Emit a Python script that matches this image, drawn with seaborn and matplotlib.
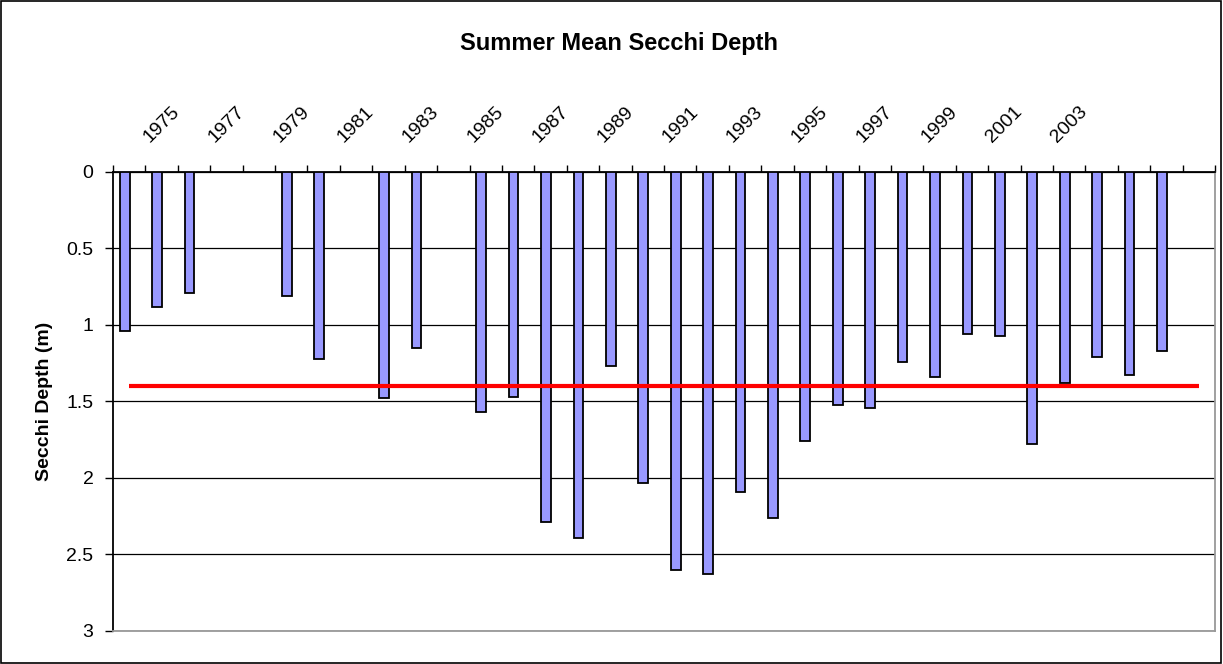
import matplotlib
matplotlib.use("Agg")
import matplotlib.pyplot as plt
import matplotlib.patches as mpatches
import seaborn as sns
import pandas as pd

# summer mean secchi depth (m), years with data only
years = [1974, 1975, 1976, 1979, 1980, 1982, 1983, 1985, 1986, 1987, 1988,
         1989, 1990, 1991, 1992, 1993, 1994, 1995, 1996, 1997, 1998, 1999,
         2000, 2001, 2002, 2003, 2004, 2005, 2006]
depth = [1.04, 0.88, 0.79, 0.81, 1.22, 1.48, 1.15, 1.57, 1.47, 2.29, 2.39,
         1.27, 2.03, 2.60, 2.63, 2.09, 2.26, 1.76, 1.52, 1.54, 1.24, 1.34,
         1.06, 1.07, 1.78, 1.38, 1.21, 1.33, 1.17]
all_years = [str(y) for y in range(1974, 2008)]
label_years = ["1975", "1977", "1979", "1981", "1983", "1985", "1987", "1989",
               "1991", "1993", "1995", "1997", "1999", "2001", "2003"]
target = 1.4

df = pd.DataFrame({"year": [str(y) for y in years], "depth": depth})

sns.set_style("white")
plt.rcParams["font.family"] = ["Liberation Sans", "DejaVu Sans"]
plt.rcParams["text.color"] = "black"
plt.rcParams["xtick.color"] = "black"
plt.rcParams["ytick.color"] = "black"
plt.rcParams["axes.labelcolor"] = "black"

fig = plt.figure(figsize=(12.23, 6.64), dpi=100)
ax = fig.add_axes([0.0924, 0.0497, 0.9011, 0.6913])

sns.barplot(data=df, x="year", y="depth", order=all_years, width=0.3,
            color="#9999FF", edgecolor="black", linewidth=1.3,
            saturation=1, ax=ax, zorder=3)
# excel draws the bars a little left of the category centre
for p in ax.patches:
    p.set_x(p.get_x() - 0.14)

ax.hlines(target, 0, len(all_years) - 1, color="#FF0000", lw=3, zorder=4)

ax.set_xlim(-0.5, len(all_years) - 0.5)
ax.set_ylim(3, 0)
ax.set_yticks([0, 0.5, 1, 1.5, 2, 2.5, 3])
ax.set_yticklabels(["0", "0.5", "1", "1.5", "2", "2.5", "3"], fontsize=14)
ax.yaxis.grid(True, color="black", lw=0.9)
ax.set_axisbelow(True)

ax.xaxis.tick_top()
ax.set_xticks([all_years.index(y) for y in label_years])
ax.set_xticklabels(label_years, rotation=45, ha="center", fontsize=14)
ax.set_xticks([i - 0.5 for i in range(len(all_years) + 1)], minor=True)
ax.tick_params(axis="x", which="major", length=0, pad=19)
ax.tick_params(axis="x", which="minor", top=True, length=5, width=1, color="black")
ax.tick_params(axis="y", which="major", left=True, length=6, width=1, color="black", pad=8)

ax.set_xlabel("")
ax.set_ylabel("Secchi Depth (m)", fontsize=14, fontweight="bold", labelpad=10)

for side in ["top", "left"]:
    ax.spines[side].set_color("black")
    ax.spines[side].set_linewidth(1.3)
for side in ["right", "bottom"]:
    ax.spines[side].set_color("#999999")
    ax.spines[side].set_linewidth(1.3)

fig.suptitle("Summer Mean Secchi Depth", x=0.506, y=0.935, fontsize=17,
             fontweight="bold", va="center")
fig.patches.append(mpatches.Rectangle((0.001, 0.002), 0.997, 0.996,
                                      transform=fig.transFigure, fill=False,
                                      edgecolor="black", lw=1.2))

fig.savefig("out.png", dpi=100)
